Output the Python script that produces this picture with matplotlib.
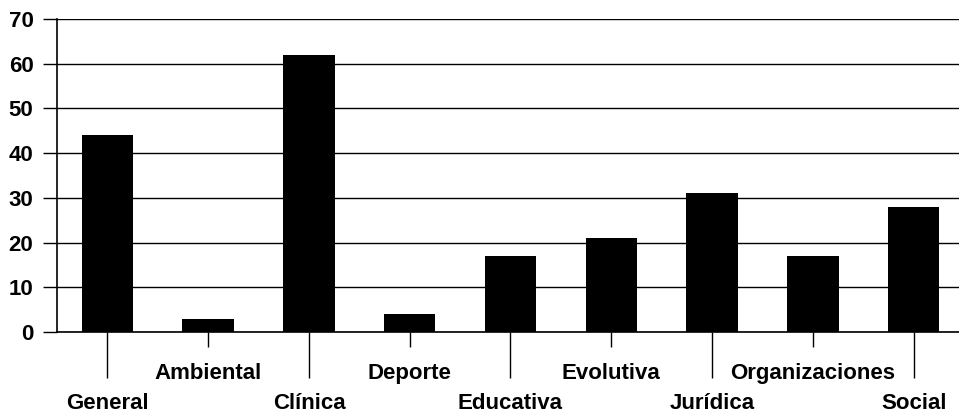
import matplotlib
matplotlib.use("Agg")
import matplotlib.pyplot as plt

categorias = ["General", "Ambiental", "Clínica", "Deporte", "Educativa",
              "Evolutiva", "Jurídica", "Organizaciones", "Social"]
valores = [44, 3, 62, 4, 17, 21, 31, 17, 28]
yticks = [0, 10, 20, 30, 40, 50, 60, 70]

plt.rcParams["font.family"] = ["Liberation Sans", "DejaVu Sans"]
plt.rcParams["font.weight"] = "bold"

fig = plt.figure(figsize=(9.59, 4.13), dpi=100)
ax = fig.add_axes([57 / 959, 81 / 413, 907 / 959, 313 / 413])

pos = list(range(len(categorias)))
ax.bar(pos, valores, width=0.51, color="black", zorder=3)

ax.set_xlim(-0.5, len(categorias) - 0.5)
ax.set_ylim(0, 70)
ax.set_yticks(yticks)
ax.set_yticklabels([str(v) for v in yticks], fontsize=16, fontweight="bold")
ax.yaxis.grid(True, color="black", linewidth=1.0, zorder=0)
ax.tick_params(axis="y", length=10, width=1.0, pad=7)

# etiquetas alternadas: pares abajo (tick largo), impares arriba (tick corto)
ax.set_xticks(pos[0::2])
ax.set_xticklabels(categorias[0::2], fontsize=16, fontweight="bold")
ax.set_xticks(pos[1::2], minor=True)
ax.set_xticklabels(categorias[1::2], minor=True, fontsize=16, fontweight="bold")
ax.tick_params(axis="x", which="major", length=33, width=1.0, pad=11)
ax.tick_params(axis="x", which="minor", length=11, width=1.0, pad=11)

for s in ["top", "right"]:
    ax.spines[s].set_visible(False)
ax.spines["left"].set_linewidth(1.2)
ax.spines["bottom"].set_linewidth(1.2)

fig.savefig("out.png", dpi=100)
